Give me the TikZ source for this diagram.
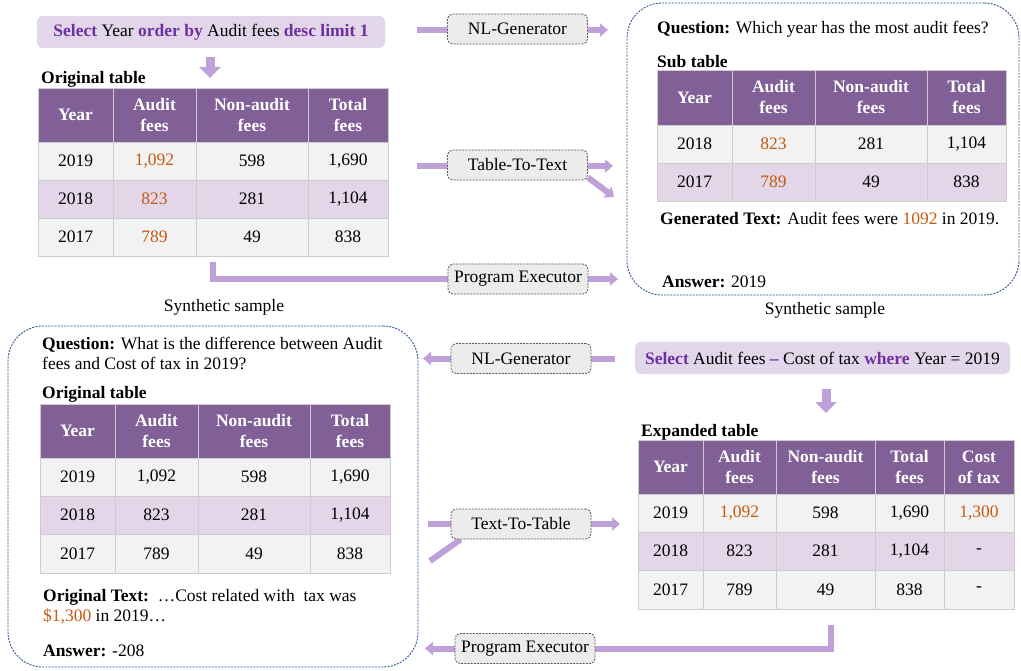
\documentclass[tikz,border=0pt]{standalone}
\usepackage{fontspec}
\setmainfont{Liberation Serif}
\usetikzlibrary{arrows.meta,backgrounds}
\definecolor{selpurple}{RGB}{112,48,160}
\definecolor{selfill}{RGB}{226,214,234}
\definecolor{hdrfill}{RGB}{128,96,150}
\definecolor{rowa}{RGB}{242,242,242}
\definecolor{rowb}{RGB}{226,214,232}
\definecolor{gridc}{RGB}{205,205,205}
\definecolor{arrc}{RGB}{191,160,216}
\definecolor{orng}{RGB}{197,90,17}
\definecolor{dashblue}{RGB}{47,85,151}
\definecolor{genfill}{RGB}{236,236,236}
\newcommand\tcell[7]{\node[#6, minimum width={(#3)-(#2)}, minimum height={(#5)-(#4)}] (#1) at ({((#2)+(#3))/2},{((#4)+(#5))/2}) {#7};}
\newcommand\rowfour[8]{%
 \tcell{#1a}{\xA}{\xB}{#3}{#4}{#2}{#5}%
 \tcell{#1b}{\xB}{\xC}{#3}{#4}{#2}{#6}%
 \tcell{#1c}{\xC}{\xD}{#3}{#4}{#2}{#7}%
 \tcell{#1d}{\xD}{\xE}{#3}{#4}{#2}{#8}}
\newcommand\rowfive[9]{%
 \rowfour{#1}{#2}{#3}{#4}{#5}{#6}{#7}{#8}%
 \tcell{#1e}{\xE}{\xF}{#3}{#4}{#2}{#9}}
\newcommand\og[1]{\textcolor{orng}{#1}}
\newcommand\kw[1]{\textcolor{selpurple}{\bfseries #1}}
\tikzset{
 tcellst/.style={draw=gridc, line width=0.8pt, inner sep=0pt, outer sep=0pt, align=center, text=black},
 hdr/.style={tcellst, fill=hdrfill, text=white, font=\fontsize{17.5}{21}\selectfont\bfseries},
 ra/.style={tcellst, fill=rowa},
 rb/.style={tcellst, fill=rowb},
 genbox/.style={draw=black!65, dash pattern=on 2pt off 1.2pt, line width=0.8pt, fill=genfill, rounded corners=5pt, minimum width=140, minimum height=30, inner sep=0pt},
 selbox/.style={fill=selfill, rounded corners=6pt, inner sep=0pt, minimum height=32},
 dbox/.style={draw=dashblue, dash pattern=on 2pt off 1.2pt, line width=0.9pt, rounded corners=35pt, inner sep=0pt},
 txt/.style={anchor=base west, inner sep=0pt},
 flow/.style={draw=arrc, line width=6pt},
 flowa/.style={flow, -{Triangle[length=8pt,width=13pt]}},
 bigdown/.style={draw=arrc, line width=9pt, -{Triangle[length=11pt,width=21pt]}},
}
\begin{document}
\begin{tikzpicture}[x=1pt,y=-1pt, font=\fontsize{17.5}{21}\selectfont]
\useasboundingbox (0,0) rectangle (1021,671);

% ---------- dashed sample boxes ----------
\node[dbox, minimum width=392, minimum height=292] (box1) at (823,149) {};
\node[dbox, minimum width=410, minimum height=341] (box2) at (213,496.5) {};

% ---------- select boxes ----------
\node[selbox, minimum width=348] (sel1) at (211,32) {\kw{Select} Year \kw{order by} Audit fees \kw{desc limit 1}};
\node[selbox, minimum width=375] (sel2) at (822.5,358) {\kw{Select} Audit fees \kw{--} Cost of tax \kw{where} Year = 2019};

% ---------- generator boxes ----------
\node[genbox] (nlg1) at (517.5,29) {NL-Generator};
\node[genbox] (t2t) at (517.5,165) {Table-To-Text};
\node[genbox] (pe1) at (518,279) {Program Executor};
\node[genbox] (nlg2) at (521,358.5) {NL-Generator};
\node[genbox] (tt2) at (521,524) {Text-To-Table};
\node[genbox] (pe2) at (525,648.5) {Program Executor};

% ---------- table 1 (original) ----------
\node[txt] (ot1) at (41,84) {\textbf{Original table}};
\def\xA{38}\def\xB{113}\def\xC{196}\def\xD{308}\def\xE{388}
\rowfour{ta0}{hdr}{88}{142}{Year}{Audit\\fees}{Non-audit\\fees}{Total\\fees}
\rowfour{ta1}{ra}{142}{180}{2019}{\og{1,092}}{598}{1,690}
\rowfour{ta2}{rb}{180}{218}{2018}{\og{823}}{281}{1,104}
\rowfour{ta3}{ra}{218}{256}{2017}{\og{789}}{49}{838}

% ---------- top right sample ----------
\node[txt] (q1) at (657,34) {\textbf{Question:} Which year has the most audit fees?};
\node[txt] (st1) at (657,68) {\textbf{Sub table}};
\def\xA{657}\def\xB{732}\def\xC{815}\def\xD{927}\def\xE{1006}
\rowfour{tb0}{hdr}{70}{125}{Year}{Audit\\fees}{Non-audit\\fees}{Total\\fees}
\rowfour{tb1}{ra}{125}{163}{2018}{\og{823}}{281}{1,104}
\rowfour{tb2}{rb}{163}{201}{2017}{\og{789}}{49}{838}
\node[txt] (gt1) at (660,225) {\textbf{Generated Text:} Audit fees were \og{1092} in 2019.};
\node[txt] (an1) at (662,288) {\textbf{Answer:} 2019};

\node (syn1) at (224,307) {Synthetic sample};
\node (syn2) at (825,310) {Synthetic sample};

% ---------- bottom left sample ----------
\node[txt] (q2a) at (42,349) {\textbf{Question:} What is the difference between Audit};
\node[txt] (q2b) at (42,370) {fees and Cost of tax in 2019?};
\node[txt] (ot2) at (42,399) {\textbf{Original table}};
\def\xA{40}\def\xB{115}\def\xC{198}\def\xD{310}\def\xE{390}
\rowfour{tc0}{hdr}{404}{458}{Year}{Audit\\fees}{Non-audit\\fees}{Total\\fees}
\rowfour{tc1}{ra}{458}{496}{2019}{1,092}{598}{1,690}
\rowfour{tc2}{rb}{496}{534}{2018}{823}{281}{1,104}
\rowfour{tc3}{ra}{534}{573}{2017}{789}{49}{838}
\node[txt] (otx1) at (43,601) {\textbf{Original Text:}\ \ …Cost related with\ \ tax was};
\node[txt] (otx2) at (43,621) {\og{\$1,300} in 2019…};
\node[txt] (an2) at (43,656) {\textbf{Answer:} -208};

% ---------- expanded table ----------
\node[txt] (et) at (641,436) {\textbf{Expanded table}};
\def\xA{638}\def\xB{703}\def\xC{776}\def\xD{875}\def\xE{944}\def\xF{1014}
\rowfive{td0}{hdr}{440}{494}{Year}{Audit\\fees}{Non-audit\\fees}{Total\\fees}{Cost\\of tax}
\rowfive{td1}{ra}{494}{532}{2019}{\og{1,092}}{598}{1,690}{\og{1,300}}
\rowfive{td2}{rb}{532}{570}{2018}{823}{281}{1,104}{-}
\rowfive{td3}{ra}{570}{609}{2017}{789}{49}{838}{-}

% ---------- connectors ----------
\coordinate (d1s) at (210,57);
\coordinate (d1e) at (210,78);
\coordinate (d2s) at (826,389);
\coordinate (d2e) at (826,413);
\coordinate (n1in) at (417,30);
\coordinate (n1out) at (608,30);
\coordinate (t1in) at (417,166);
\coordinate (t1out) at (613,166);
\coordinate (t1diag) at (614,197);
\coordinate (p1src) at (213,262);
\coordinate (p1out) at (618,279);
\coordinate (n2src) at (615,358.5);
\coordinate (n2out) at (423,358.5);
\coordinate (t2in) at (428,524);
\coordinate (t2out) at (620,524);
\coordinate (t2diag) at (430,561);
\coordinate (p2src) at (831,625);
\coordinate (p2out) at (425,648.5);

\begin{pgfonlayer}{background}
\fill[white] (0,0) rectangle (1021,671);
\draw[bigdown] (d1s) -- (d1e);
\draw[bigdown] (d2s) -- (d2e);
\draw[flow] (n1in) -- (nlg1.west |- n1in);
\draw[flowa] (nlg1.east |- n1out) -- (n1out);
\draw[flow] (t1in) -- (t2t.west |- t1in);
\draw[flowa] (t2t.east |- t1out) -- (t1out);
\draw[flowa] ([yshift=3pt]t2t.south east) -- (t1diag);
\draw[flow] (p1src) |- (pe1.west);
\draw[flowa] (pe1.east) -- (p1out);
\draw[flow] (n2src) -- (nlg2.east);
\draw[flowa] (nlg2.west) -- (n2out);
\draw[flow] (t2in) -- (tt2.west);
\draw[flowa] (tt2.east) -- (t2out);
\draw[flow] (t2diag) -- ([xshift=10pt]tt2.south west);
\draw[flow] (p2src) |- (pe2.east);
\draw[flowa] (pe2.west) -- (p2out);
\end{pgfonlayer}
\end{tikzpicture}
\end{document}
